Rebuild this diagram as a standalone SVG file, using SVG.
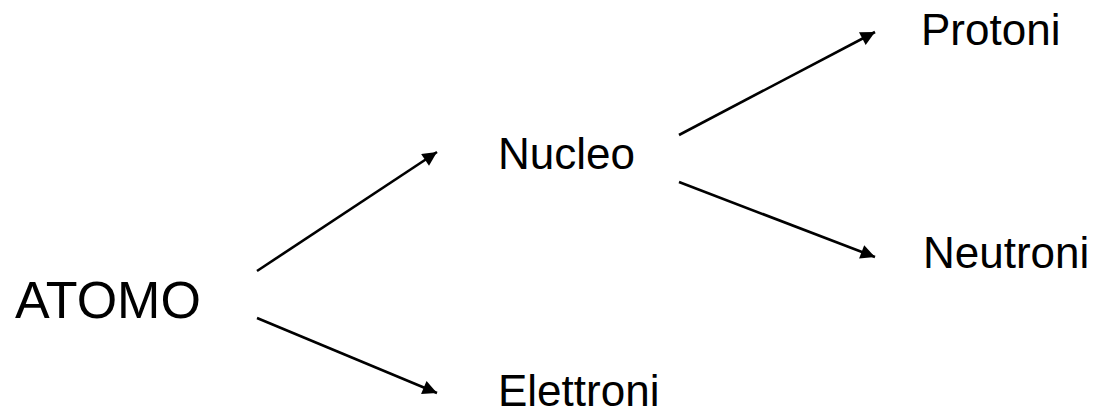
<svg xmlns="http://www.w3.org/2000/svg" width="1113" height="417" viewBox="0 0 1113 417">
<style>
text{font-family:"Liberation Sans",Arial,sans-serif;fill:#000}
.c{font-size:44px}
.r{font-size:52px}
line{stroke:#000;stroke-width:2.6}
</style>
<defs>
<marker id="ah" viewBox="0 0 10 10" refX="10" refY="5" markerWidth="6.5" markerHeight="5.5" markerUnits="strokeWidth" orient="auto">
<path d="M0,0 L10,5 L0,10 Z" fill="#000"/>
</marker>
</defs>
<rect width="1113" height="417" fill="#fff"/>
<g id="connectors">
<line x1="257" y1="271" x2="437" y2="152" marker-end="url(#ah)"/>
<line x1="257" y1="318" x2="437" y2="393" marker-end="url(#ah)"/>
<line x1="679" y1="135" x2="875" y2="32" marker-end="url(#ah)"/>
<line x1="679" y1="182" x2="875" y2="257" marker-end="url(#ah)"/>
</g>
<g id="atomo"><text class="r" x="15" y="318">ATOMO</text></g>
<g id="nucleo"><text class="c" x="498" y="169">Nucleo</text></g>
<g id="elettroni"><text class="c" x="498" y="406">Elettroni</text></g>
<g id="protoni"><text class="c" x="921" y="45">Protoni</text></g>
<g id="neutroni"><text class="c" x="923" y="268">Neutroni</text></g>
</svg>
